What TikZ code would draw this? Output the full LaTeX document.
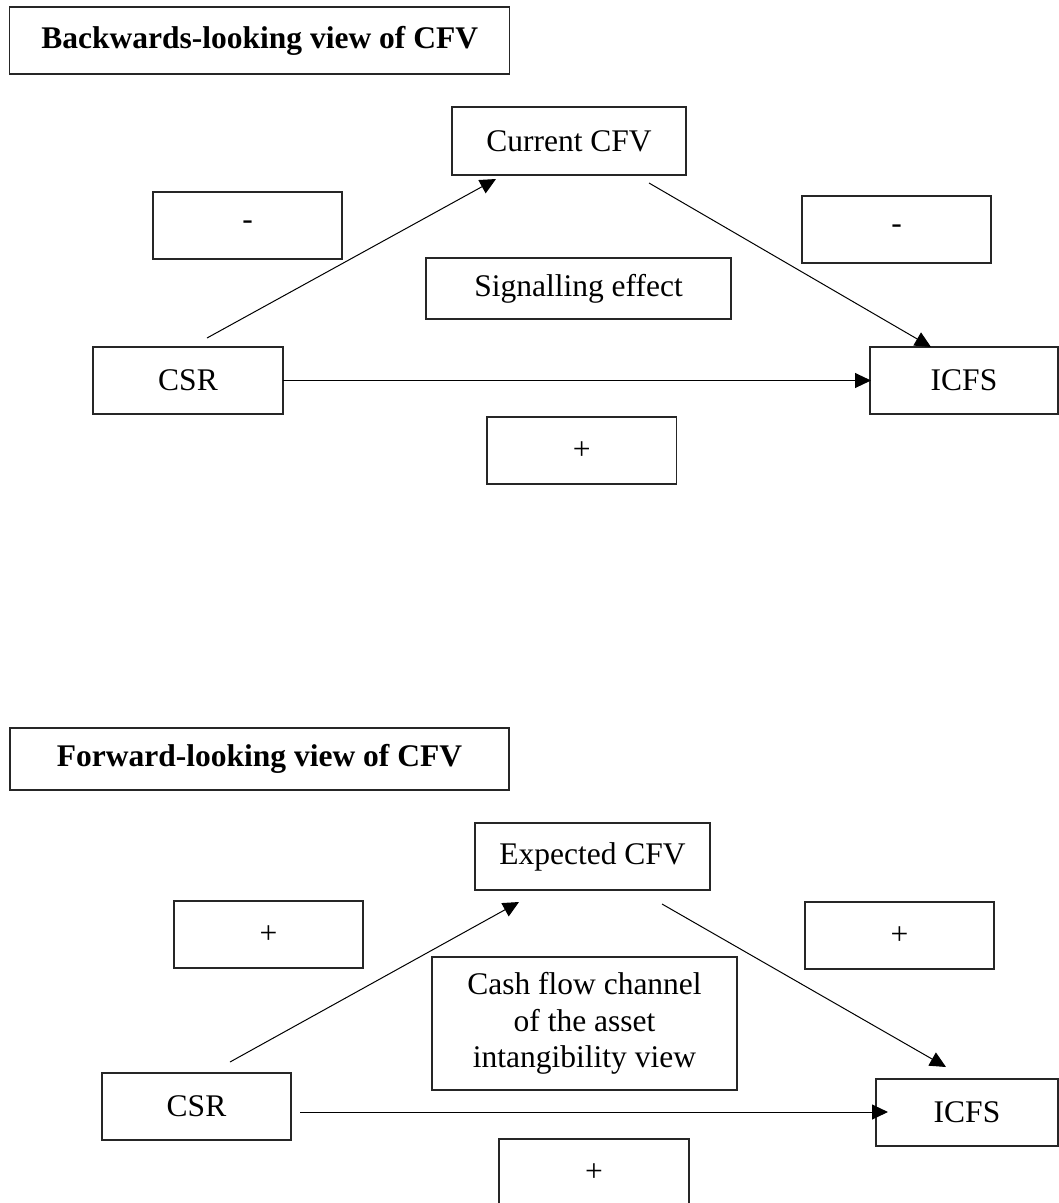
\documentclass[tikz,border=0pt]{standalone}
\usepackage{fontspec}
\setmainfont{Liberation Serif}
\usetikzlibrary{arrows.meta}
\begin{document}
\begin{tikzpicture}[x=1pt,y=-1pt,
  box/.style={draw=black!85,line width=1.3pt,inner sep=0pt,outer sep=0pt,anchor=center,
    font=\fontsize{31.5}{36.5}\selectfont,align=center},
  conn/.style={line width=1pt,-{Triangle[length=16pt,width=15pt]}},
  plain/.style={line width=1pt}]
\useasboundingbox (0,0) rectangle (1059,1203);
% ---- top section
\node[box,minimum width=500pt,minimum height=67pt,font=\fontsize{31.5}{36.5}\selectfont\bfseries] (t1) at (259.75,40.5) {Backwards-looking view of CFV};
\node[box,minimum width=234pt,minimum height=68pt] (cfv1) at (569,141) {Current CFV};
\node[box,minimum width=189pt,minimum height=67pt] (m1) at (247.5,225.5) {-};
\node[box,minimum width=189pt,minimum height=67pt] (m2) at (896.5,229.5) {-};
\node[box,minimum width=305pt,minimum height=61pt] (sig) at (578.5,288.5) {Signalling effect};
\node[box,minimum width=190pt,minimum height=67pt] (csr1) at (188,380.5) {CSR};
\node[box,minimum width=188pt,minimum height=67pt] (icfs1) at (964,380.5) {ICFS};
\node[box,minimum width=189.5pt,minimum height=67pt] (p1) at (581.75,450.5) {+};
\coordinate (a1s) at (207,338);
\coordinate (a1e) at (496,179);
\coordinate (a2s) at (649,183);
\coordinate (a2e) at (931,347);
\coordinate (a3e) at (871,380.5);
\draw[conn] (a1s) -- (a1e);
\draw[conn] (a2s) -- (a2e);
\draw[conn] (csr1.east) -- (a3e);
% ---- bottom section
\node[box,minimum width=499pt,minimum height=62pt,font=\fontsize{31.5}{36.5}\selectfont\bfseries] (t2) at (259.5,759) {Forward-looking view of CFV};
\node[box,minimum width=235pt,minimum height=67pt] (cfv2) at (592.5,856.5) {Expected CFV};
\node[box,minimum width=189pt,minimum height=67pt] (p2) at (268.5,934.5) {+};
\node[box,minimum width=189pt,minimum height=67pt] (p3) at (899.5,935.5) {+};
\node[box,minimum width=305pt,minimum height=133pt] (cash) at (584.5,1023.5) {Cash flow channel\\of the asset\\intangibility view};
\node[box,minimum width=189pt,minimum height=67pt] (csr2) at (196.5,1106.5) {CSR};
\node[box,minimum width=182pt,minimum height=67pt] (icfs2) at (967,1112.5) {ICFS};
\node[box,minimum width=190pt,minimum height=67pt] (p4) at (594,1172.5) {+};
\coordinate (b1s) at (230,1062);
\coordinate (b1e) at (519,902);
\coordinate (b2s) at (662,904);
\coordinate (b2e) at (946,1067);
\coordinate (b3s) at (300,1112);
\coordinate (b3e) at (888,1112);
\draw[conn] (b1s) -- (b1e);
\draw[conn] (b2s) -- (b2e);
\draw[conn] (b3s) -- (b3e);
\end{tikzpicture}
\end{document}
